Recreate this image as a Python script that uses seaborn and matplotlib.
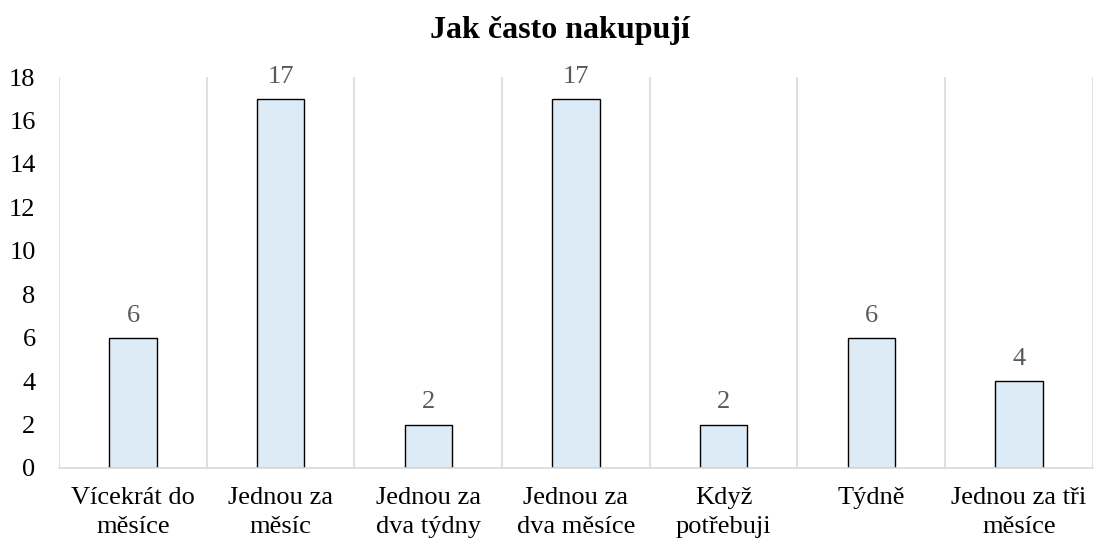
import matplotlib
matplotlib.use("Agg")
import matplotlib.pyplot as plt
import seaborn as sns
import pandas as pd
from matplotlib.ticker import FixedLocator

categories = ["Vícekrát do\nměsíce", "Jednou za\nměsíc", "Jednou za\ndva týdny",
              "Jednou za\ndva měsíce", "Když\npotřebuji", "Týdně", "Jednou za tři\nměsíce"]
values = [6, 17, 2, 17, 2, 6, 4]
title = "Jak často nakupují"
yticks = [0, 2, 4, 6, 8, 10, 12, 14, 16, 18]

sns.set_theme(style="white")
plt.rcParams['font.family'] = ['Liberation Serif', 'DejaVu Serif']
plt.rcParams['text.color'] = 'black'

df = pd.DataFrame({"cat": categories, "val": values})

fig = plt.figure(figsize=(10.96, 5.45), dpi=100)
ax = fig.add_axes([0.054, 0.1413, 0.943, 0.7174])
sns.barplot(data=df, x="cat", y="val", ax=ax, color="#DDEBF7", edgecolor="black",
            linewidth=1.0, width=0.32, saturation=1)

ax.set_xlim(-0.5, len(categories) - 0.5)
ax.set_ylim(0, 18)
ax.set_yticks(yticks)
ax.set_xticks(range(len(categories)))
ax.set_xticklabels(categories, linespacing=1.4)
ax.xaxis.set_minor_locator(FixedLocator([i - 0.5 for i in range(len(categories) + 1)]))
ax.grid(which="minor", axis="x", color="#D9D9D9", linewidth=1.2)
ax.grid(which="major", axis="both", visible=False)
ax.set_axisbelow(True)
for s in ["top", "right", "left"]:
    ax.spines[s].set_visible(False)
ax.spines["bottom"].set_color("#D9D9D9")
ax.spines["bottom"].set_linewidth(1.2)
ax.tick_params(axis="both", which="both", length=0, labelsize=19, colors="black")
ax.tick_params(axis="x", pad=14)
ax.tick_params(axis="y", pad=17)
ax.set_xlabel("")
ax.set_ylabel("")

for cont in ax.containers:
    ax.bar_label(cont, labels=[str(v) for v in values], padding=8, fontsize=19, color="#595959")

ax.set_title(title, fontsize=23, fontweight="bold", pad=28, x=0.485, color="black")

fig.savefig("out.png", dpi=100)
